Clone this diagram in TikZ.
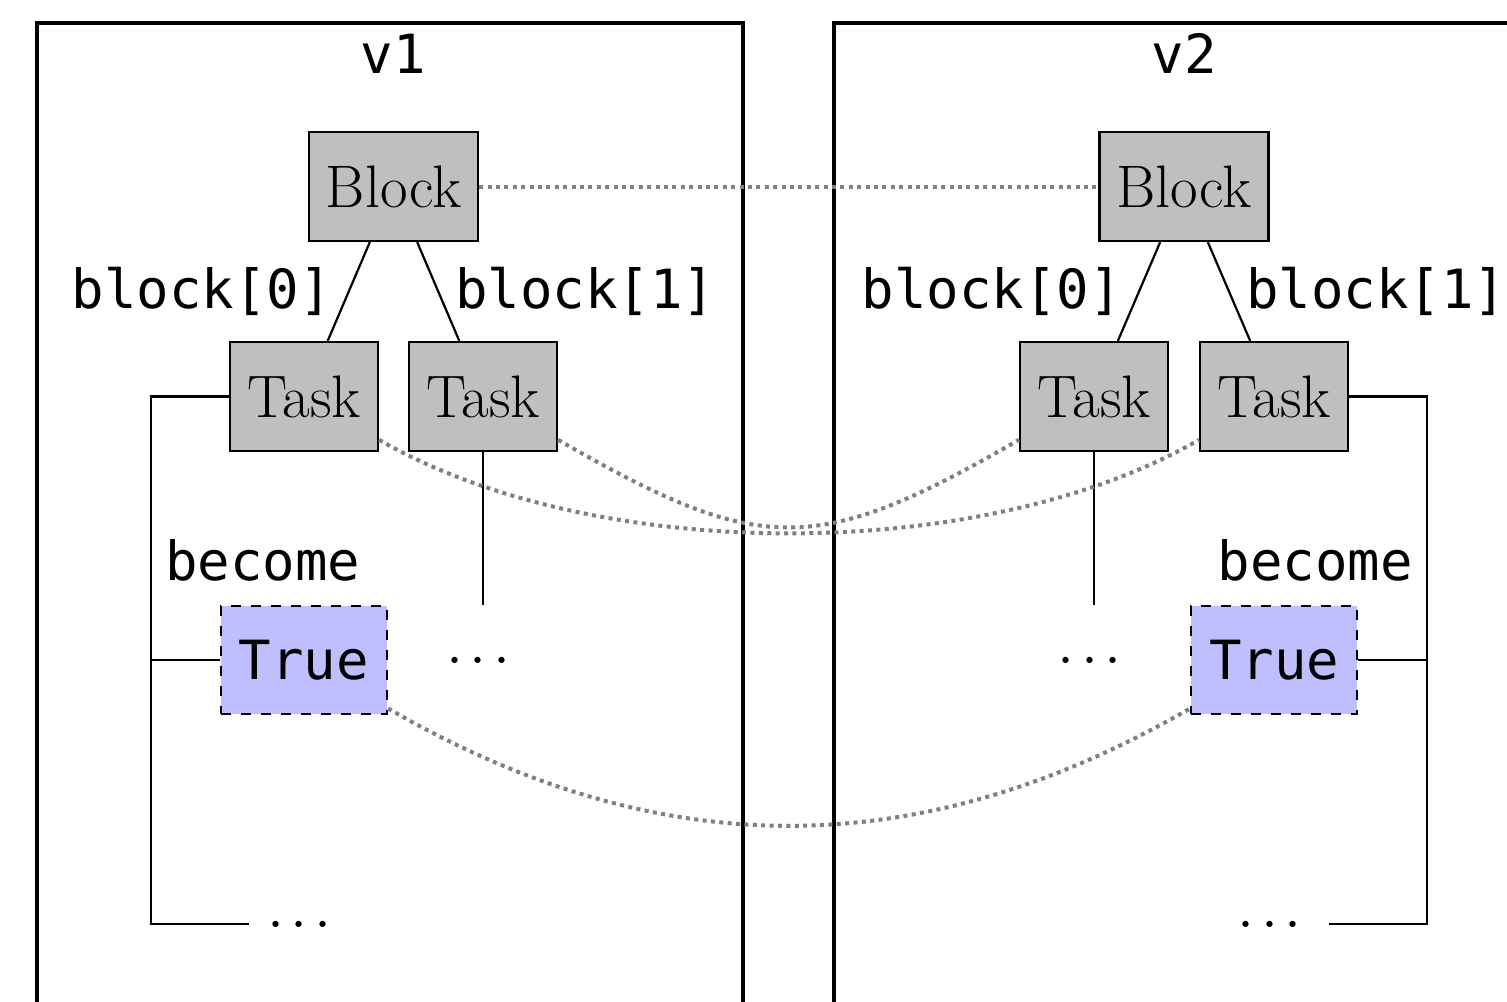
\documentclass[tikz,border=0pt]{standalone}
\usepackage{fontspec}
\setmonofont{DejaVu Sans Mono}
\usetikzlibrary{calc}
\newcommand{\rmbig}{\fontsize{30}{36}\selectfont\rmfamily}
\newcommand{\rmdots}{\fontsize{38}{44}\selectfont\rmfamily}
\newcommand{\ttbig}{\fontsize{27}{32}\selectfont\ttfamily}
% three spaced baseline dots, with a little room after the last one
\newcommand{\spaceddots}{.\kern2.4pt.\kern2.4pt.\kern4.5pt}
\begin{document}
\begin{tikzpicture}[x=0.5pt,y=0.5pt,
  frame/.style={draw, line width=1.75pt},
  wire/.style={draw, line width=1.1pt},
  box/.style={draw, line width=1.1pt, fill=lightgray, minimum height=54.5pt,
    inner sep=0pt, font=\rmbig},
  blockbox/.style={box, minimum width=84.5pt},
  taskbox/.style={box, minimum width=74pt},
  truebox/.style={draw, line width=1.1pt, dash pattern=on 5pt off 5pt,
    fill=blue!25, minimum width=83pt, minimum height=54pt, inner sep=0pt,
    font=\ttbig},
  dots/.style={minimum width=55pt, minimum height=54.5pt, inner sep=0pt,
    font=\rmdots},
  lbl/.style={font=\ttbig, inner sep=8pt},
  link/.style={draw=gray, line width=2pt, dash pattern=on 2pt off 2.2pt}]
\useasboundingbox (0,0) rectangle (1507,-1001);
\clip (0,0) rectangle (1507,-1001);

% version frames
\draw[frame] (37,-23) rectangle (743,-1040);
\draw[frame] (834,-23) rectangle (1545,-1040);

% ---- v1 ----
\node[font=\ttbig, anchor=base, inner sep=0pt] (v1) at (393.5,-73) {v1};
\node[blockbox] (b1) at (393.5,-186.5) {Block};
\node[taskbox] (t1a) at (304,-396.5) {Task};
\node[taskbox] (t1b) at (483,-396.5) {Task};
\node[truebox] (tr1) at (304,-660) {True};
\node[dots] (d1a) at (483,-660) {\spaceddots};
\node[dots] (d1b) at (304,-924) {\spaceddots};
\node[font=\ttbig, anchor=base west, inner sep=0pt] (bc1) at (165,-580) {become};

\draw[wire] (b1) -- node[lbl, left] {block[0]} (t1a);
\draw[wire] (b1) -- node[lbl, right] {block[1]} (t1b);
\draw[wire] (t1b) -- (d1a);
\coordinate (k1) at ($(t1a.west)+(-78,0)$);
\draw[wire] (t1a.west) -- (k1) |- (d1b.west);
\draw[wire] (tr1.west) -- (tr1.west -| k1);

% ---- v2 ----
\node[font=\ttbig, anchor=base, inner sep=0pt] (v2) at (1184,-73) {v2};
\node[blockbox] (b2) at (1184,-186.5) {Block};
\node[taskbox] (t2a) at (1094,-396.5) {Task};
\node[taskbox] (t2b) at (1274,-396.5) {Task};
\node[truebox] (tr2) at (1274,-660) {True};
\node[dots] (d2a) at (1094,-660) {\spaceddots};
\node[dots] (d2b) at (1274,-924) {\spaceddots};
\node[font=\ttbig, anchor=base east, inner sep=0pt] (bc2) at (1413,-580) {become};

\draw[wire] (b2) -- node[lbl, left] {block[0]} (t2a);
\draw[wire] (b2) -- node[lbl, right] {block[1]} (t2b);
\draw[wire] (t2a) -- (d2a);
\coordinate (k2) at ($(t2b.east)+(78,0)$);
\draw[wire] (t2b.east) -- (k2) |- (d2b.east);
\draw[wire] (tr2.east) -- (tr2.east -| k2);

% correspondences between the two versions
\draw[link] (b1) -- (b2);
\draw[link] (t1a) to[out=-30, in=-150, looseness=0.78] (t2b);
\draw[link] (t1b) to[out=-30, in=-150, looseness=1.3] (t2a);
\draw[link] (tr1) to[out=-30, in=-150] (tr2);
\end{tikzpicture}
\end{document}
